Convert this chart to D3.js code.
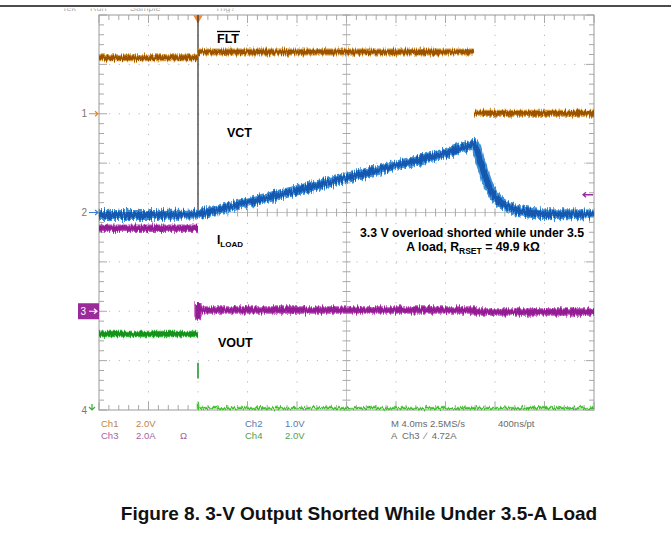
<!DOCTYPE html>
<html><head><meta charset="utf-8">
<script src="https://cdn.jsdelivr.net/npm/d3@7"></script>
<style>html,body{margin:0;padding:0;background:#fff}svg{display:block}</style>
</head><body>
<svg id="c" width="671" height="556"></svg>
<script>
// ---------- data ----------
// time axis: 4.0 ms/div, trigger at 0, 10 divisions
const timeDomain = [-8, 32];
const divCount = 8;
// channel ground positions (in divisions from top) and scale per division
const channelNames = ["Ch1", "Ch2", "Ch3", "Ch4"];
const channelGround = [2, 4, 6, 8];
const channelPerDiv = [2.0, 1.0, 2.0, 2.0];

// Ch1 : FLT (V)  (null breaks the trace)
const fltTime = [-8, 0, 0, 0, 22.3, 22.3, 22.3, 32];
const fltVal  = [2.27, 2.27, null, 2.50, 2.50, null, 0.02, 0.02];
// Ch2 : VCT (V)
const vctTime = [-8, -4, 0, 4, 8, 12, 16, 20, 22.3, 22.55, 22.7, 23.1, 23.5, 23.9, 24.3, 25.1, 25.9, 27.6, 32];
const vctVal  = [-0.05, -0.05, -0.04, 0.20, 0.45, 0.70, 0.95, 1.20, 1.39, 1.27, 1.12, 0.82, 0.52, 0.35, 0.23, 0.11, 0.03, -0.03, -0.04];
// Ch3 : ILOAD (A)
const iloadTime = [-8, 0, 0, 0, 0, 0, 22.3, 22.3, 32];
const iloadVal  = [3.36, 3.36, null, 0.32, -0.20, 0.05, 0.05, -0.03, -0.03];
// Ch4 : VOUT (V)
const voutPreTime = [-8, 0];
const voutPreVal  = [3.08, 3.08];
const voutGlitchTime = [0, 0];
const voutGlitchVal  = [1.90, 1.28];
const voutPostTime = [0, 0, 0.2, 32];
const voutPostVal  = [0.28, 0.07, 0.07, 0.07];
// trigger level on Ch3 (A)
const triggerLevel = 4.72;

// readout texts
const readoutRow1 = [["Ch1", "#b8864a"], ["2.0V", "#b8864a"], ["Ch2", "#5a78ad"], ["1.0V", "#5a78ad"], ["M 4.0ms 2.5MS/s", "#6a6a6a"], ["400ns/pt", "#6a6a6a"]];
const readoutRow2 = [["Ch3", "#a264a2"], ["2.0A", "#a264a2"], ["\u03A9", "#a264a2"], ["Ch4", "#4f9c4f"], ["2.0V", "#4f9c4f"], ["A  Ch3  \u2215  4.72A", "#6a6a6a"]];
const topStatus = ["Tek", "Run", "Sample", "Trig?"];

// ---------- layout ----------
const svg = d3.select("#c");
const plot = {left: 99, right: 594, top: 15, bottom: 410};
const x = d3.scaleLinear().domain(timeDomain).range([plot.left, plot.right]);
const yDiv = d3.scaleLinear().domain([0, divCount]).range([plot.top, plot.bottom]);
const chY = (ch, v) => yDiv(channelGround[ch] - v / channelPerDiv[ch]);
const zip = (t, v) => t.map((d, i) => ({t: d, v: v[i]}));

// noise filter (vertical jitter of the traces)
const defs = svg.append("defs");
function noiseFilter(id, freq, scale, seed) {
  const f = defs.append("filter").attr("id", id).attr("filterUnits", "userSpaceOnUse")
    .attr("x", 0).attr("y", 0).attr("width", 671).attr("height", 556);
  f.append("feTurbulence").attr("type", "fractalNoise").attr("baseFrequency", freq)
    .attr("numOctaves", 2).attr("seed", seed).attr("result", "n");
  const ct = f.append("feComponentTransfer").attr("in", "n").attr("result", "n2");
  ct.append("feFuncR").attr("type", "linear").attr("slope", 0).attr("intercept", 0.5);
  f.append("feDisplacementMap").attr("in", "SourceGraphic").attr("in2", "n2")
    .attr("scale", scale).attr("xChannelSelector", "R").attr("yChannelSelector", "G");
}
noiseFilter("nz1", "0.9 0.08", 7, 3);
noiseFilter("nz2", "0.9 0.08", 10, 7);
noiseFilter("nz3", "0.7 0.08", 6, 11);

// top rule and cropped status line
svg.append("line").attr("x1", 0).attr("x2", 671).attr("y1", 6).attr("y2", 6)
  .attr("stroke", "#111").attr("stroke-width", 1.3);
defs.append("clipPath").attr("id", "topclip").append("rect")
  .attr("x", 0).attr("y", 8.5).attr("width", 671).attr("height", 4);
const statusX = [62, 90, 130, 215];
svg.append("g").attr("clip-path", "url(#topclip)").selectAll("text").data(topStatus).join("text")
  .attr("x", (d, i) => statusX[i]).attr("y", 11).attr("font-family", "Liberation Sans, Arial")
  .attr("font-size", 9).attr("fill", "#aaa").text(d => d);

// ---------- graticule ----------
const g = svg.append("g");
const gridCol = "#b8b8b8";
// dotted grid
for (let i = 1; i < 10; i++) {
  if (i === 5) continue;
  g.append("line").attr("x1", x(timeDomain[0] + i * 4)).attr("x2", x(timeDomain[0] + i * 4))
    .attr("y1", plot.top).attr("y2", plot.bottom).attr("stroke", gridCol).attr("stroke-width", 1)
    .attr("stroke-dasharray", "1.2,8.7");
}
for (let j = 1; j < divCount; j++) {
  if (j === 4) continue;
  g.append("line").attr("x1", plot.left).attr("x2", plot.right).attr("y1", yDiv(j)).attr("y2", yDiv(j))
    .attr("stroke", gridCol).attr("stroke-width", 1).attr("stroke-dasharray", "1.2,8.7");
}
// center cross
const cx = x(12), cy = yDiv(4);
g.append("line").attr("x1", plot.left).attr("x2", plot.right).attr("y1", cy).attr("y2", cy).attr("stroke", "#c4c4c4");
g.append("line").attr("x1", cx).attr("x2", cx).attr("y1", plot.top).attr("y2", plot.bottom).attr("stroke", "#c4c4c4");
// minor ticks
const tickCol = "#a8a8a8";
for (let k = 0; k <= 50; k++) {
  const xx = x(timeDomain[0] + k * 0.8);
  const major = k % 5 === 0;
  g.append("line").attr("x1", xx).attr("x2", xx).attr("y1", cy - 4).attr("y2", cy + 4).attr("stroke", tickCol);
  g.append("line").attr("x1", xx).attr("x2", xx).attr("y1", plot.top).attr("y2", plot.top + (major ? 8 : 5)).attr("stroke", tickCol);
  g.append("line").attr("x1", xx).attr("x2", xx).attr("y1", plot.bottom).attr("y2", plot.bottom - (major ? 8 : 5)).attr("stroke", tickCol);
}
for (let k = 0; k <= 40; k++) {
  const yy = yDiv(k * 0.2);
  const major = k % 5 === 0;
  g.append("line").attr("x1", cx - 4).attr("x2", cx + 4).attr("y1", yy).attr("y2", yy).attr("stroke", tickCol);
  g.append("line").attr("x1", plot.left).attr("x2", plot.left + (major ? 8 : 5)).attr("y1", yy).attr("y2", yy).attr("stroke", tickCol);
  g.append("line").attr("x1", plot.right).attr("x2", plot.right - (major ? 8 : 5)).attr("y1", yy).attr("y2", yy).attr("stroke", tickCol);
}
g.append("rect").attr("x", plot.left).attr("y", plot.top).attr("width", plot.right - plot.left)
  .attr("height", plot.bottom - plot.top).attr("fill", "none").attr("stroke", "#9a9a9a").attr("stroke-width", 1);

// trigger position marker (top)
svg.append("path").attr("d", d3.symbol(d3.symbolTriangle, 40)())
  .attr("transform", `translate(${x(0)},${plot.top + 3}) rotate(180)`).attr("fill", "#f08a3c");

// ---------- traces ----------
const line = (ch) => d3.line().defined(d => d.v !== null).x(d => x(d.t)).y(d => chY(ch, d.v));
function trace(ch, t, v, colors, widths, filter) {
  const data = zip(t, v);
  colors.forEach((c, i) => {
    svg.append("path").datum(data).attr("d", line(ch)).attr("fill", "none")
      .attr("stroke", c).attr("stroke-width", widths[i]).attr("stroke-linejoin", "round")
      .attr("filter", filter ? `url(#${filter})` : null);
  });
}
// black transition line at trigger
svg.append("line").attr("x1", x(0)).attr("x2", x(0)).attr("y1", plot.top).attr("y2", chY(1, -0.05))
  .attr("stroke", "#2a2a2a").attr("stroke-width", 1.2);

trace(0, fltTime, fltVal, ["#d89a3a", "#9c5200"], [7, 4.5], "nz1");
trace(1, vctTime, vctVal, ["#3d8fd6", "#1459b0"], [10, 6], "nz2");
trace(2, iloadTime, iloadVal, ["#c050c0", "#921c92"], [7.5, 5], "nz1");
trace(3, voutPreTime, voutPreVal, ["#4cc04c", "#17921f"], [6.5, 4.5], "nz3");
trace(3, voutGlitchTime, voutGlitchVal, ["#17921f"], [1.5], null);
trace(3, voutPostTime, voutPostVal, ["#8ee070", "#3fb83a"], [3, 1.6], "nz3");

// ground markers
const mk = svg.append("g").attr("font-family", "Liberation Sans, Arial").attr("font-size", 10);
const markerCol = ["#e0882a", "#3b7fd0", "#ffffff", "#3fa83f"];
[0, 1, 3].forEach(ch => {
  const yy = yDiv(channelGround[ch]);
  mk.append("text").attr("x", 87).attr("y", yy + 3.5).attr("text-anchor", "end").attr("fill", "#777").text(ch + 1);
  if (ch === 3) {
    mk.append("path").attr("d", `M92,${yy - 6}L92,${yy}M89,${yy - 3}L92,${yy}L95,${yy - 3}`)
      .attr("stroke", markerCol[ch]).attr("fill", "none").attr("stroke-width", 1.2);
  } else {
    mk.append("path").attr("d", `M89,${yy}L98,${yy}M95,${yy - 2.5}L98,${yy}L95,${yy + 2.5}`)
      .attr("stroke", markerCol[ch]).attr("fill", "none").attr("stroke-width", 1.2);
  }
});
{
  const yy = yDiv(channelGround[2]);
  mk.append("rect").attr("x", 78).attr("y", yy - 8).attr("width", 21).attr("height", 16).attr("fill", "#9b2a9b");
  mk.append("text").attr("x", 86).attr("y", yy + 3.5).attr("text-anchor", "end").attr("fill", "#fff").text("3");
  mk.append("path").attr("d", `M89,${yy}L97,${yy}M94,${yy - 2.5}L97,${yy}L94,${yy + 2.5}`)
    .attr("stroke", "#fff").attr("fill", "none").attr("stroke-width", 1.2);
}
// trigger level marker (right)
{
  const yy = chY(2, triggerLevel);
  svg.append("path").attr("d", `M583,${yy}L593,${yy}M586,${yy - 2.5}L583,${yy}L586,${yy + 2.5}`)
    .attr("stroke", "#9b2a9b").attr("fill", "none").attr("stroke-width", 1.3);
}

// ---------- annotations ----------
const an = svg.append("g").attr("font-family", "Liberation Sans, Arial").attr("font-weight", "bold").attr("fill", "#000");
an.append("text").attr("x", 217).attr("y", 43).attr("font-size", 12.5).text("FLT");
an.append("line").attr("x1", 217).attr("x2", 240).attr("y1", 31.5).attr("y2", 31.5).attr("stroke", "#000").attr("stroke-width", 1.3);
an.append("text").attr("x", 227).attr("y", 137).attr("font-size", 12.5).text("VCT");
const il = an.append("text").attr("x", 217).attr("y", 244).attr("font-size", 12);
il.append("tspan").text("I");
il.append("tspan").attr("font-size", 8).attr("dy", 3).text("LOAD");
an.append("text").attr("x", 218).attr("y", 347).attr("font-size", 12.5).text("VOUT");
an.append("text").attr("x", 472).attr("y", 237).attr("text-anchor", "middle").attr("font-size", 12.3)
  .text("3.3 V overload shorted while under 3.5");
const l2 = an.append("text").attr("x", 473).attr("y", 251).attr("text-anchor", "middle").attr("font-size", 12.3);
l2.append("tspan").text("A load, R");
l2.append("tspan").attr("font-size", 8.5).attr("dy", 3).text("RSET");
l2.append("tspan").attr("dy", -3).text(" = 49.9 k\u03A9");

// ---------- readout ----------
const ro = svg.append("g").attr("font-family", "Liberation Sans, Arial").attr("font-size", 9.5);
const row1X = [101, 136, 245, 285, 391, 498];
const row2X = [101, 136, 180, 245, 285, 391];
ro.selectAll(".r1").data(readoutRow1).join("text").attr("x", (d, i) => row1X[i]).attr("y", 427)
  .attr("fill", d => d[1]).text(d => d[0]);
ro.selectAll(".r2").data(readoutRow2).join("text").attr("x", (d, i) => row2X[i]).attr("y", 439)
  .attr("fill", d => d[1]).attr("xml:space", "preserve").style("white-space", "pre").text(d => d[0]);

// ---------- caption ----------
svg.append("text").attr("x", 359).attr("y", 520).attr("text-anchor", "middle")
  .attr("font-family", "Liberation Sans, Arial").attr("font-weight", "bold").attr("font-size", 19)
  .attr("fill", "#111").text("Figure 8. 3-V Output Shorted While Under 3.5-A Load");
</script>
</body></html>
